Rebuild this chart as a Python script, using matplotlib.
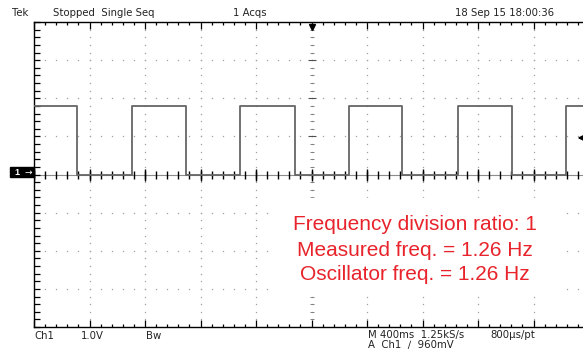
import numpy as np
import matplotlib
matplotlib.use("Agg")
import matplotlib.pyplot as plt
from matplotlib.patches import Rectangle

# scope settings
sec_per_div = 0.4      # M 400ms
volt_per_div = 1.0     # Ch1 1.0V
trig_level = 0.96      # 960mV
trig_time = 2.0        # trigger marker at the centre of the record

# edges of the captured square wave (s, from left edge of screen)
fall_times = [0.308, 1.096, 1.881, 2.655, 3.443]
rise_times = [0.704, 1.485, 2.270, 3.054, 3.834]
high_v = 1.8
low_v = 0.0

header = ["Tek", "Stopped  Single Seq", "1 Acqs", "18 Sep 15 18:00:36"]
footer = ["Ch1", "1.0V", "Bw", "M 400ms  1.25kS/s", "800\u00b5s/pt", "A  Ch1  \u2215  960mV"]
notes = ["Frequency division ratio: 1",
         "Measured freq. = 1.26 Hz",
         "Oscillator freq. = 1.26 Hz"]

W, H = 583, 357
fig = plt.figure(figsize=(W / 100, H / 100), dpi=100)


def fx(px):
    return px / W


def fy(py):
    return 1 - py / H


left, right, top, bottom = 34, 583, 22, 327
ax = fig.add_axes([fx(left), fy(bottom), fx(right) - fx(left), fy(top) - fy(bottom)])

xmax = (right - left) / 55.5 * sec_per_div
ax.set_xlim(0, xmax)
ax.set_ylim(-4 * volt_per_div, 4 * volt_per_div)

# graticule border ticks
ax.set_xticks(np.arange(0, xmax, sec_per_div))
ax.set_xticks(np.arange(0, xmax, sec_per_div / 5), minor=True)
ax.set_yticks(np.arange(-4, 4.01, 1.0))
ax.set_yticks(np.arange(-4, 4.01, 0.2), minor=True)
ax.tick_params(which="both", direction="in", top=True, bottom=True, left=True, right=False,
               labelbottom=False, labelleft=False, color="black", width=0.9)
ax.tick_params(which="major", length=5)
ax.tick_params(which="minor", length=2.5)
ax.tick_params(axis="y", which="both", length=4)
for s in ["left", "top", "bottom"]:
    ax.spines[s].set_linewidth(1.0)
    ax.spines[s].set_color("black")
ax.spines["right"].set_visible(False)

dot_col = "#a0a0a0"
# dotted grid lines
for k in range(1, 10):
    xv = k * sec_per_div
    ys = np.arange(-4, 4.01, 0.2)
    ax.plot(np.full_like(ys, xv), ys, ls="none", marker="s", ms=0.9, mew=0, color=dot_col)
for k in range(-3, 4):
    if k == 0:
        continue
    xs = np.arange(0, xmax, sec_per_div / 5)
    ax.plot(xs, np.full_like(xs, k), ls="none", marker="s", ms=0.9, mew=0, color=dot_col)

# centre lines with crossing ticks
ax.axhline(0, color="#8c8c8c", lw=0.8, zorder=1)
xs = np.arange(0, xmax, sec_per_div / 5)
ax.plot(xs, np.zeros_like(xs), ls="none", marker="|", ms=5.5, mew=1.0, color="black")
xs = np.arange(0, xmax, sec_per_div)
ax.plot(xs, np.zeros_like(xs), ls="none", marker="|", ms=9, mew=1.0, color="black")
ys = np.arange(-4, 4.01, 0.2)
ax.plot(np.full_like(ys, trig_time), ys, ls="none", marker="_", ms=3.5, mew=0.7, color="#808080")
ys = np.arange(-4, 4.01, 1.0)
ax.plot(np.full_like(ys, trig_time), ys, ls="none", marker="_", ms=6, mew=0.8, color="#505050")

# square wave from edge list
edges = sorted([(t, low_v) for t in fall_times] + [(t, high_v) for t in rise_times])
wx, wy = [0.0], [high_v]
for t, lvl in edges:
    wx += [t, t]
    wy += [wy[-1], lvl]
wx.append(xmax)
wy.append(wy[-1])
ax.plot(wx, wy, color="#666666", lw=1.3, zorder=3)

# trigger markers
ax.plot(trig_time, 4 * volt_per_div - 0.12, marker="v", ms=5, color="black", clip_on=False, zorder=5)
ax.annotate("", xy=(xmax - 0.06, trig_level), xytext=(xmax + 0.03, trig_level),
            arrowprops=dict(arrowstyle="-|>", color="black", lw=1.3, mutation_scale=9),
            annotation_clip=False)

# channel ground marker
fig.patches.append(Rectangle((fx(10), fy(177)), fx(24), fy(167) - fy(177),
                             transform=fig.transFigure, color="black"))
fig.text(fx(17), fy(172.5), "1", color="white", fontsize=6.5, ha="center", va="center",
         family="Liberation Sans", fontweight="bold")
fig.text(fx(28), fy(172.5), "\u2192", color="white", fontsize=6.5, ha="center", va="center")

# header and footer texts
hfont = dict(fontsize=7.3, family="DejaVu Sans", color="#222222", va="center")
fig.text(fx(12), fy(13), header[0], **hfont)
fig.text(fx(53), fy(13), header[1], **hfont)
fig.text(fx(233), fy(13), header[2], **hfont)
fig.text(fx(455), fy(13), header[3], **hfont)
fig.text(fx(34), fy(336), footer[0], **hfont)
fig.text(fx(81), fy(336), footer[1], **hfont)
fig.text(fx(146), fy(336), footer[2], **hfont)
fig.text(fx(368), fy(335), footer[3], **hfont)
fig.text(fx(490), fy(335), footer[4], **hfont)
fig.text(fx(368), fy(344), footer[5], **hfont)

# white panel behind the red annotation
fig.patches.append(Rectangle((fx(276), fy(294)), fx(562) - fx(276), fy(198) - fy(294),
                             transform=fig.transFigure, color="white", zorder=4))
for i, line in enumerate(notes):
    fig.text(fx(415), fy(225 + 25 * i), line, color="#e8232b", fontsize=15,
             family="Liberation Sans", ha="center", va="center", zorder=5)

fig.savefig("out.png", dpi=100)
